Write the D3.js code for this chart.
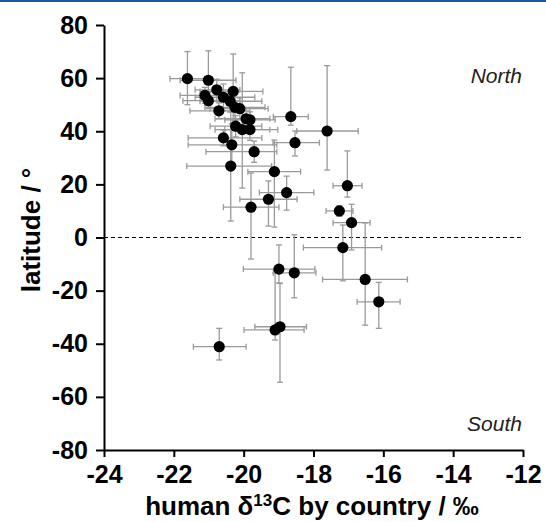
<!DOCTYPE html>
<html>
<head>
<meta charset="utf-8">
<script src="https://cdn.jsdelivr.net/npm/d3@7/dist/d3.min.js"></script>
<style>
  body { margin: 0; background: #fff; }
  svg { display: block; }
</style>
</head>
<body>
<svg class="viz" width="546" height="522"></svg>
<script>
// Data, one entry per country
var d13C   = [-21.61, -21.01, -20.77, -20.30, -21.11, -21.01, -20.58, -20.39, -20.25, -20.11,
              -20.71, -19.93, -19.82, -20.23, -20.04, -19.82, -20.58, -20.34, -19.70, -20.37,
              -19.12, -18.77, -19.29, -19.79, -18.65, -18.53, -17.61, -17.03, -17.26, -16.91,
              -17.16, -16.52, -16.13, -18.99, -18.55, -19.10, -18.96, -20.70];
var lat    = [59.8, 59.2, 55.6, 55.0, 53.5, 51.5, 52.8, 51.3, 49.0, 48.5,
              47.7, 44.7, 44.3, 41.9, 40.6, 40.6, 37.5, 34.9, 32.3, 26.9,
              24.8, 16.9, 14.4, 11.4, 45.5, 35.7, 40.1, 19.5, 10.0, 5.6,
              -3.8, -15.8, -24.2, -11.9, -13.3, -34.8, -33.6, -41.1];
var d13CMin = [-22.11, -21.82, -21.39, -21.25, -21.82, -21.74, -21.39, -21.25, -21.11, -20.96,
               -21.54, -20.82, -20.54, -20.96, -20.82, -20.54, -21.59, -21.59, -21.08, -21.63,
               -19.88, -19.55, -20.11, -20.58, -19.15, -19.16, -18.48, -17.44, -17.64, -17.44,
               -18.29, -17.74, -16.75, -20.01, -19.15, -19.99, -19.68, -21.44];
var d13CMax = [-21.11, -20.22, -20.11, -19.45, -20.39, -20.11, -19.68, -19.48, -19.39, -19.30,
               -19.82, -19.25, -19.10, -19.48, -19.25, -19.02, -19.48, -19.05, -19.05, -19.20,
               -18.37, -17.99, -18.47, -18.99, -18.15, -17.83, -16.72, -16.61, -16.87, -16.38,
               -16.05, -15.31, -15.52, -17.96, -17.93, -18.27, -18.20, -19.93];
var latMin = [50.0, 50.0, 51.6, 41.0, 50.5, 48.5, 47.8, 47.3, 44.0, 44.5,
              44.7, 40.7, 41.3, 37.9, 18.6, 36.6, 34.5, 27.0, 28.3, 6.2,
              3.9, 10.3, 4.3, -8.1, 42.3, 30.7, 25.4, 15.2, 8.0, -4.7,
              -16.3, -33.0, -34.2, -17.1, -22.7, -38.6, -54.5, -46.1];
var latMax = [70.0, 70.3, 59.6, 69.1, 56.5, 54.5, 57.8, 55.3, 54.0, 52.5,
              50.7, 48.7, 47.3, 45.9, 62.0, 44.6, 40.5, 42.8, 36.3, 47.2,
              36.7, 23.1, 21.3, 24.3, 64.1, 40.1, 64.7, 32.6, 12.0, 12.5,
              4.7, 5.5, -16.9, -2.8, 1.0, -13.4, -17.3, -34.2];

var xTicks = [-24, -22, -20, -18, -16, -14, -12];
var yTicks = [-80, -60, -40, -20, 0, 20, 40, 60, 80];

var svg = d3.select(".viz"),
    margin = {top: 25, right: 23, bottom: 72, left: 104},
    width = +svg.attr("width") - margin.left - margin.right,
    height = +svg.attr("height") - margin.top - margin.bottom;

var tickFont = "'Liberation Sans', Arial, sans-serif";

// blue rule at the very top
svg.append("rect")
    .attr("x", 0).attr("y", 0)
    .attr("width", 546).attr("height", 2)
    .attr("fill", "#1b55a0");

var scaleX = d3.scaleLinear()
    .domain([-24, -12])
    .range([margin.left, margin.left + width]);

var scaleY = d3.scaleLinear()
    .domain([-80, 80])
    .range([margin.top + height, margin.top]);

var points = d3.range(d13C.length).map(function (i) {
  return {x: d13C[i], y: lat[i], x0: d13CMin[i], x1: d13CMax[i], y0: latMin[i], y1: latMax[i]};
});

// dashed equator line
svg.append("line")
    .attr("x1", scaleX(-24))
    .attr("x2", scaleX(-12))
    .attr("y1", scaleY(0))
    .attr("y2", scaleY(0))
    .style("stroke", "#000")
    .style("stroke-width", "1.2px")
    .style("stroke-dasharray", "4,3");

// error bars
var cap = 3;
var bars = svg.append("g")
    .attr("class", "errorbars")
    .style("stroke", "#9a9a9a")
    .style("stroke-width", "1.3px");

points.forEach(function (d) {
  var g = bars.append("g");
  g.append("line")
      .attr("x1", scaleX(d.x0)).attr("x2", scaleX(d.x1))
      .attr("y1", scaleY(d.y)).attr("y2", scaleY(d.y));
  g.append("line")
      .attr("x1", scaleX(d.x0)).attr("x2", scaleX(d.x0))
      .attr("y1", scaleY(d.y) - cap).attr("y2", scaleY(d.y) + cap);
  g.append("line")
      .attr("x1", scaleX(d.x1)).attr("x2", scaleX(d.x1))
      .attr("y1", scaleY(d.y) - cap).attr("y2", scaleY(d.y) + cap);
  g.append("line")
      .attr("x1", scaleX(d.x)).attr("x2", scaleX(d.x))
      .attr("y1", scaleY(d.y0)).attr("y2", scaleY(d.y1));
  g.append("line")
      .attr("x1", scaleX(d.x) - cap).attr("x2", scaleX(d.x) + cap)
      .attr("y1", scaleY(d.y0)).attr("y2", scaleY(d.y0));
  g.append("line")
      .attr("x1", scaleX(d.x) - cap).attr("x2", scaleX(d.x) + cap)
      .attr("y1", scaleY(d.y1)).attr("y2", scaleY(d.y1));
});

// dots
svg.append("g")
    .selectAll("circle")
    .data(points)
    .enter()
    .append("circle")
    .attr("cx", function (d) { return scaleX(d.x); })
    .attr("cy", function (d) { return scaleY(d.y); })
    .attr("r", 5.6)
    .attr("fill", "#000");

// axes (plain hyphen for negatives, as in the original)
var plain = function (d) { return String(d); };

var yAxis = d3.axisLeft(scaleY)
    .tickValues(yTicks)
    .tickFormat(plain)
    .tickSize(8)
    .tickSizeOuter(0)
    .tickPadding(8);

var xAxis = d3.axisBottom(scaleX)
    .tickValues(xTicks)
    .tickFormat(plain)
    .tickSize(7)
    .tickSizeOuter(0)
    .tickPadding(8);

var gy = svg.append("g")
    .attr("transform", "translate(" + margin.left + ",0)")
    .call(yAxis);

var gx = svg.append("g")
    .attr("transform", "translate(0," + (margin.top + height) + ")")
    .call(xAxis);

[gx, gy].forEach(function (g) {
  g.selectAll("path, line").style("stroke", "#000").style("stroke-width", "2px");
  g.selectAll("text")
      .attr("font-family", tickFont)
      .attr("font-size", "25px")
      .attr("font-weight", "bold")
      .attr("fill", "#000");
});

// axis titles
var xTitle = svg.append("text")
    .attr("x", 312)
    .attr("y", 515)
    .attr("text-anchor", "middle")
    .attr("font-family", tickFont)
    .attr("font-size", "26px")
    .attr("font-weight", "bold")
    .attr("fill", "#000");
xTitle.append("tspan").text("human δ");
xTitle.append("tspan").attr("dy", -9).attr("font-size", "17px").text("13");
xTitle.append("tspan").attr("dy", 9).text("C by country / ‰");

svg.append("text")
    .attr("transform", "translate(40,230) rotate(-90)")
    .attr("text-anchor", "middle")
    .attr("font-family", tickFont)
    .attr("font-size", "26px")
    .attr("font-weight", "bold")
    .attr("fill", "#000")
    .text("latitude / °");

// North / South notes
svg.append("text")
    .attr("x", 522).attr("y", 83)
    .attr("text-anchor", "end")
    .attr("font-family", tickFont)
    .attr("font-size", "21px")
    .attr("font-style", "italic")
    .attr("fill", "#222")
    .text("North");

svg.append("text")
    .attr("x", 522).attr("y", 431)
    .attr("text-anchor", "end")
    .attr("font-family", tickFont)
    .attr("font-size", "21px")
    .attr("font-style", "italic")
    .attr("fill", "#222")
    .text("South");
</script>
</body>
</html>
